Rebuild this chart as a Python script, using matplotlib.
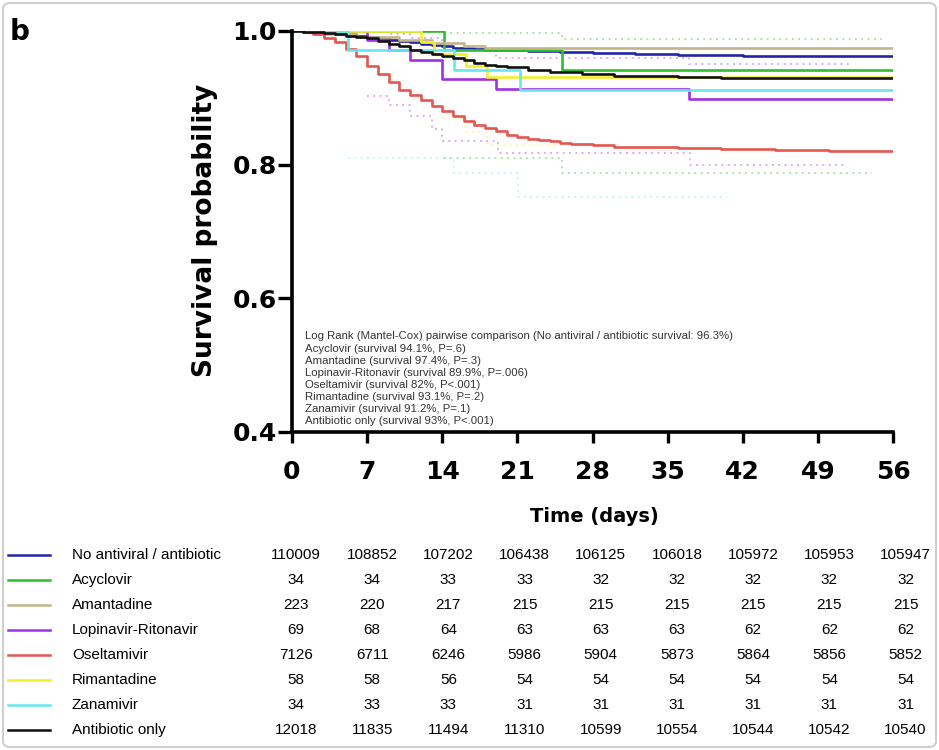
import matplotlib.pyplot as plt
from matplotlib.lines import Line2D
from matplotlib.patches import FancyBboxPatch

# Kaplan-Meier curves (days, survival)
t_none = [0, 1, 2, 3, 4, 5, 6, 7, 8, 9, 10, 11, 12, 13, 14, 15, 16, 17, 18, 20, 22, 25, 28, 32, 36, 42, 56]
s_none = [1.0, 0.999, 0.998, 0.997, 0.996, 0.995, 0.993, 0.991, 0.989, 0.987, 0.985, 0.983, 0.981, 0.979,
          0.977, 0.975, 0.974, 0.973, 0.972, 0.971, 0.970, 0.968, 0.967, 0.965, 0.964, 0.963, 0.963]

t_acyc = [0, 14.2, 25.2, 56]
s_acyc = [1.0, 0.971, 0.941, 0.941]

t_aman = [0, 2, 6, 10, 13, 16, 18, 56]
s_aman = [1.0, 0.9955, 0.991, 0.987, 0.982, 0.978, 0.974, 0.974]

t_lopi = [0, 7, 9, 11, 14, 19, 37, 56]
s_lopi = [1.0, 0.986, 0.971, 0.957, 0.928, 0.913, 0.899, 0.899]

t_osel = [0, 1, 2, 3, 4, 5, 6, 7, 8, 9, 10, 11, 12, 13, 14, 15, 16, 17, 18, 19, 20, 21, 22, 23, 24, 25, 26,
          28, 30, 33, 36, 40, 45, 50, 56]
s_osel = [1.0, 0.999, 0.996, 0.990, 0.983, 0.973, 0.962, 0.948, 0.935, 0.923, 0.912, 0.904, 0.897, 0.888,
          0.880, 0.873, 0.865, 0.859, 0.855, 0.850, 0.845, 0.842, 0.839, 0.837, 0.835, 0.833, 0.831,
          0.829, 0.827, 0.826, 0.825, 0.823, 0.822, 0.821, 0.820]

t_rima = [0, 12, 13.2, 16.2, 18.2, 56]
s_rima = [1.0, 0.983, 0.966, 0.948, 0.931, 0.931]

t_zana = [0, 5.2, 15.1, 21.2, 56]
s_zana = [1.0, 0.971, 0.941, 0.912, 0.912]

t_abx = [0, 1, 2, 3, 4, 5, 6, 7, 8, 9, 10, 11, 12, 13, 14, 15, 16, 17, 18, 19, 20, 22, 24, 27, 30, 33, 36,
         40, 45, 56]
s_abx = [1.0, 0.999, 0.998, 0.997, 0.995, 0.993, 0.991, 0.989, 0.985, 0.981, 0.977, 0.972, 0.968, 0.965,
         0.962, 0.959, 0.956, 0.952, 0.949, 0.947, 0.946, 0.942, 0.939, 0.936, 0.933, 0.932, 0.931,
         0.930, 0.930, 0.930]

# faint dotted confidence bounds
t_lopi_lo = [7, 9, 11, 13, 14, 19.2, 37.1, 51.7]
s_lopi_lo = [0.903, 0.889, 0.873, 0.853, 0.835, 0.817, 0.800, 0.800]
t_lopi_hi = [7, 9, 11, 14, 19, 37, 52]
s_lopi_hi = [0.998, 0.995, 0.990, 0.972, 0.960, 0.951, 0.951]
t_acyc_lo = [14.2, 25.2, 54]
s_acyc_lo = [0.810, 0.787, 0.787]
t_acyc_hi = [14.2, 25.2, 55]
s_acyc_hi = [0.997, 0.988, 0.988]
t_zana_lo = [5.2, 15.1, 21.1, 40.5]
s_zana_lo = [0.810, 0.787, 0.752, 0.752]
t_rima_lo = [14, 16.2, 18.2, 27]
s_rima_lo = [0.870, 0.849, 0.829, 0.829]

groups = ["No antiviral / antibiotic", "Acyclovir", "Amantadine", "Lopinavir-Ritonavir",
          "Oseltamivir", "Rimantadine", "Zanamivir", "Antibiotic only"]
colors = ["#2424a8", "#2ec02e", "#c4b48c", "#a22fe0", "#e2574f", "#f2ef2a", "#66e6f0", "#111111"]
curves = [(t_none, s_none), (t_acyc, s_acyc), (t_aman, s_aman), (t_lopi, s_lopi),
          (t_osel, s_osel), (t_rima, s_rima), (t_zana, s_zana), (t_abx, s_abx)]
ci_lines = [(t_lopi_lo, s_lopi_lo, 3), (t_lopi_hi, s_lopi_hi, 3), (t_acyc_lo, s_acyc_lo, 1),
            (t_acyc_hi, s_acyc_hi, 1), (t_zana_lo, s_zana_lo, 6), (t_rima_lo, s_rima_lo, 5)]

at_risk = [
    [110009, 108852, 107202, 106438, 106125, 106018, 105972, 105953, 105947],
    [34, 34, 33, 33, 32, 32, 32, 32, 32],
    [223, 220, 217, 215, 215, 215, 215, 215, 215],
    [69, 68, 64, 63, 63, 63, 62, 62, 62],
    [7126, 6711, 6246, 5986, 5904, 5873, 5864, 5856, 5852],
    [58, 58, 56, 54, 54, 54, 54, 54, 54],
    [34, 33, 33, 31, 31, 31, 31, 31, 31],
    [12018, 11835, 11494, 11310, 10599, 10554, 10544, 10542, 10540],
]
x_ticks = [0, 7, 14, 21, 28, 35, 42, 49, 56]
y_ticks = [0.4, 0.6, 0.8, 1.0]

notes = [
    "Log Rank (Mantel-Cox) pairwise comparison (No antiviral / antibiotic survival: 96.3%)",
    "Acyclovir (survival 94.1%, P=.6)",
    "Amantadine (survival 97.4%, P=.3)",
    "Lopinavir-Ritonavir (survival 89.9%, P=.006)",
    "Oseltamivir (survival 82%, P<.001)",
    "Rimantadine (survival 93.1%, P=.2)",
    "Zanamivir (survival 91.2%, P=.1)",
    "Antibiotic only (survival 93%, P<.001)",
]

W, H = 939, 750
fig = plt.figure(figsize=(W / 100, H / 100), dpi=100)
ax = fig.add_axes([292 / W, 1 - 432 / H, 601 / W, 401 / H])

for t, s, ci in ci_lines:
    ax.step(t, s, where="post", color=colors[ci], lw=1.3, alpha=0.45,
            linestyle=(0, (1, 2.5)), zorder=1)

for (t, s), c in zip(curves, colors):
    ax.step(t, s, where="post", color=c, lw=1.9, zorder=2)

ax.set_xlim(0, 56)
ax.set_ylim(0.4, 1.0)
ax.set_xticks(x_ticks)
ax.set_yticks(y_ticks)
ax.set_yticklabels([f"{v:.1f}" for v in y_ticks])
for sp in ["top", "right"]:
    ax.spines[sp].set_visible(False)
for sp in ["left", "bottom"]:
    ax.spines[sp].set_linewidth(2.6)
ax.tick_params(axis="both", width=2.4)
ax.tick_params(axis="x", pad=12, length=8)
ax.tick_params(axis="y", pad=1, length=10)
for lab in ax.get_xticklabels() + ax.get_yticklabels():
    lab.set_fontfamily("DejaVu Sans")
    lab.set_fontweight("bold")
    lab.set_fontsize(18)
ax.margins(0)

ax.text(13 / 601, 0.015, "\n".join(notes), transform=ax.transAxes, ha="left", va="bottom",
        fontsize=8.2, family="Liberation Sans", color="#333333", linespacing=1.26)

fig.text(205 / W, 1 - 230 / H, "Survival probability", rotation=90, ha="center", va="center",
         fontsize=19, fontweight="bold", family="DejaVu Sans")
fig.text(594 / W, 1 - 516 / H, "Time (days)", ha="center", va="center",
         fontsize=14, fontweight="bold", family="DejaVu Sans")
fig.text(10 / W, 1 - 32 / H, "b", ha="left", va="center", fontsize=20, fontweight="bold",
         family="DejaVu Sans")

# number-at-risk table
for i, (name, c, row) in enumerate(zip(groups, colors, at_risk)):
    y = 1 - (555 + 25 * i) / H
    fig.lines.append(Line2D([8 / W, 50 / W], [y, y], color=c, lw=1.8, transform=fig.transFigure))
    fig.text(72 / W, y, name, ha="left", va="center", fontsize=11, family="Liberation Sans")
    for j, n in enumerate(row):
        fig.text((296 + 76.2 * j) / W, y, str(n), ha="center", va="center", fontsize=11,
                 family="Liberation Sans")

fig.patches.append(FancyBboxPatch((3 / W, 3 / H), 1 - 6 / W, 1 - 6 / H,
                                  boxstyle="round,pad=0,rounding_size=0.008",
                                  transform=fig.transFigure, fc="none", ec="#cfcfcf", lw=1.5))

fig.savefig("out.png", dpi=100)
